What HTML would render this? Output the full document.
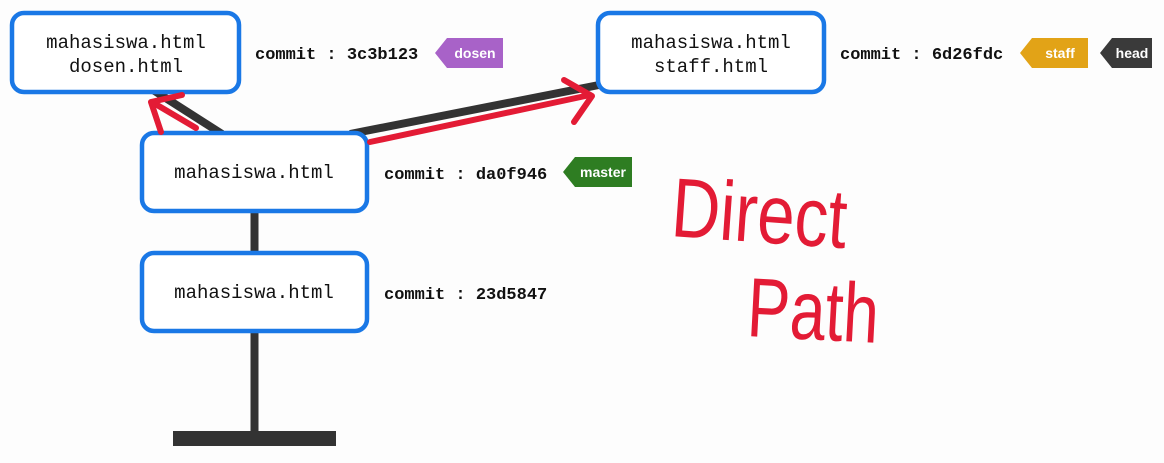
<!DOCTYPE html>
<html><head><meta charset="utf-8"><style>
html,body{margin:0;padding:0;background:#fdfdfd;}
svg{display:block}
.box{fill:#fff;stroke:#1a78e6;stroke-width:4.5}
.bt{font-family:"Liberation Mono",monospace;font-size:19px;fill:#111;text-anchor:middle}
.ct{font-family:"Liberation Mono",monospace;font-size:17px;font-weight:bold;fill:#111}
.tg{font-family:"Liberation Sans",sans-serif;font-size:14px;font-weight:bold;fill:#fff;text-anchor:middle}
.hw{font-family:"Liberation Sans",sans-serif;fill:#e31b35;}
</style></head><body>
<svg width="1164" height="463" viewBox="0 0 1164 463">
<rect width="1164" height="463" fill="#fdfdfd"/>
<g stroke="#333" stroke-width="8" fill="none">
<line x1="222" y1="134" x2="150" y2="88"/>
<line x1="350" y1="134" x2="604" y2="84"/>
<line x1="254.5" y1="210" x2="254.5" y2="254"/>
<line x1="254.5" y1="330" x2="254.5" y2="434"/>
</g>
<rect x="173" y="431" width="163" height="15" fill="#333"/>
<rect class="box" x="12" y="13" width="227" height="79" rx="12"/>
<rect class="box" x="598" y="13" width="226" height="79" rx="12"/>
<rect class="box" x="142" y="133" width="225" height="78" rx="12"/>
<rect class="box" x="142" y="253" width="225" height="78" rx="12"/>
<text class="bt" x="126" y="48">mahasiswa.html</text>
<text class="bt" x="126" y="72">dosen.html</text>
<text class="bt" x="711" y="48">mahasiswa.html</text>
<text class="bt" x="711" y="72">staff.html</text>
<text class="bt" x="254" y="178">mahasiswa.html</text>
<text class="bt" x="254" y="298">mahasiswa.html</text>
<g stroke="#e31b35" stroke-width="6" fill="none" stroke-linecap="round" stroke-linejoin="round">
<line x1="196" y1="128" x2="152" y2="102"/>
<polyline points="161,132 151,102 182,95"/>
<line x1="370" y1="142" x2="590" y2="95"/>
<polyline points="564,80 592,96 574,122"/>
</g>
<text class="ct" x="255" y="59">commit : 3c3b123</text>
<text class="ct" x="840" y="59">commit : 6d26fdc</text>
<text class="ct" x="384" y="179">commit : da0f946</text>
<text class="ct" x="384" y="299">commit : 23d5847</text>
<polygon points="447,38 503,38 503,68 447,68 435,53" fill="#a862c8"/>
<text class="tg" x="475" y="58">dosen</text>
<polygon points="1032,38 1088,38 1088,68 1032,68 1020,53" fill="#e2a317"/>
<text class="tg" x="1060" y="58">staff</text>
<polygon points="1112,38 1152,38 1152,68 1112,68 1100,53" fill="#3a3a3a"/>
<text class="tg" x="1132" y="58">head</text>
<polygon points="575,157 632,157 632,187 575,187 563,172" fill="#2e7d22"/>
<text class="tg" x="603" y="177">master</text>
<g transform="translate(670,236) rotate(4) scale(0.84,1.05)"><text class="hw" x="0" y="0" font-size="80">Direct</text></g>
<g transform="translate(746,336) rotate(3) scale(0.8,1.05)"><text class="hw" x="0" y="0" font-size="80">Path</text></g>
</svg>
</body></html>
